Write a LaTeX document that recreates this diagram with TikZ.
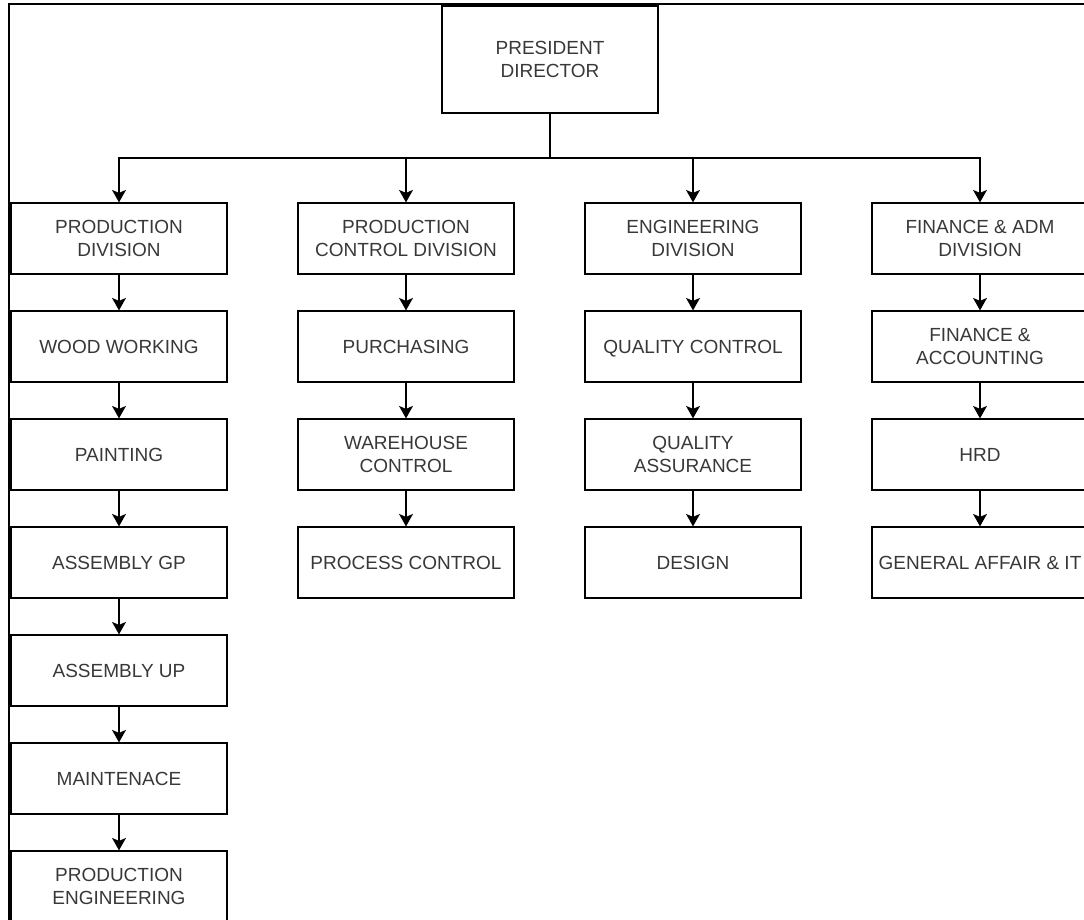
\documentclass[tikz,border=0pt]{standalone}
\usepackage{fontspec}
\setmainfont{Liberation Sans}
\usetikzlibrary{arrows.meta}
\tikzset{
  unit/.style={draw, line width=1.2pt, minimum width=216pt, minimum height=71pt,
    inner sep=0pt, align=center, text=black!78, font=\fontsize{19}{23}\selectfont},
  link/.style={line width=1.2pt, -{Stealth[length=12.5pt,width=14pt,inset=3pt]}}
}
\begin{document}
\begin{tikzpicture}[x=1pt,y=-1pt]
      \useasboundingbox (0,0) rectangle (1084,919);
      \clip (0,0) rectangle (1084,919);
      \draw[line width=1.2pt] (9,4) rectangle (1300,1100);
      \draw
        (550,59.5) node[unit, minimum height=107pt] (pd){PRESIDENT\\DIRECTOR}
        (119,238.5) node[unit] (prod){PRODUCTION\\DIVISION}
        (119,346.5) node[unit] (wood){WOOD WORKING}
        (119,454.5) node[unit] (paint){PAINTING}
        (119,562.5) node[unit] (agp){ASSEMBLY GP}
        (119,670.5) node[unit] (aup){ASSEMBLY UP}
        (119,778.5) node[unit] (maint){MAINTENACE}
        (119,886.5) node[unit] (peng){PRODUCTION\\ENGINEERING}
        (406,238.5) node[unit] (pcd){PRODUCTION\\CONTROL DIVISION}
        (406,346.5) node[unit] (purch){PURCHASING}
        (406,454.5) node[unit] (ware){WAREHOUSE\\CONTROL}
        (406,562.5) node[unit] (proc){PROCESS CONTROL}
        (693,238.5) node[unit] (eng){ENGINEERING\\DIVISION}
        (693,346.5) node[unit, text depth=0pt] (qc){QUALITY CONTROL}
        (693,454.5) node[unit] (qa){QUALITY\\ASSURANCE}
        (693,562.5) node[unit] (design){DESIGN}
        (980,238.5) node[unit] (fin){FINANCE \& ADM\\DIVISION}
        (980,346.5) node[unit] (acc){FINANCE \&\\ACCOUNTING}
        (980,454.5) node[unit] (hrd){HRD}
        (980,562.5) node[unit] (ga){GENERAL AFFAIR \& IT};
      \coordinate (bus) at (550,158);
      \begin{scope}[link]
        \draw (pd.south) -- (bus) -| (prod.north);
        \draw (pd.south) -- (bus) -| (pcd.north);
        \draw (pd.south) -- (bus) -| (eng.north);
        \draw (pd.south) -- (bus) -| (fin.north);
        \draw (prod) to (wood);
        \draw (wood) to (paint);
        \draw (paint) to (agp);
        \draw (agp) to (aup);
        \draw (aup) to (maint);
        \draw (maint) to (peng);
        \draw (pcd) to (purch);
        \draw (purch) to (ware);
        \draw (ware) to (proc);
        \draw (eng) to (qc);
        \draw (qc) to (qa);
        \draw (qa) to (design);
        \draw (fin) to (acc);
        \draw (acc) to (hrd);
        \draw (hrd) to (ga);
      \end{scope}
    \end{tikzpicture}
\end{document}
